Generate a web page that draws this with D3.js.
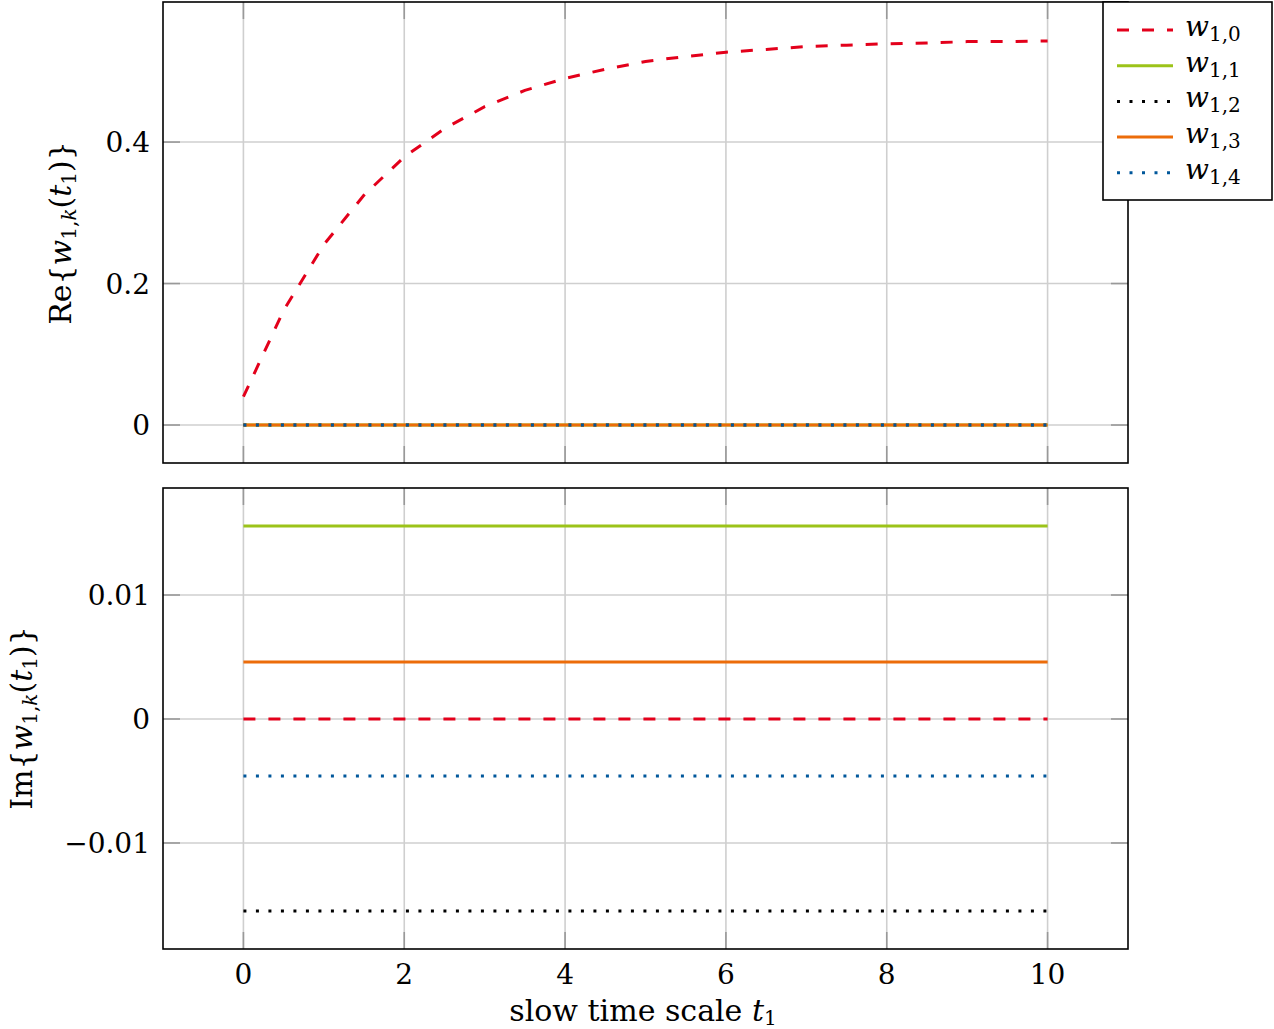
<!DOCTYPE html>
<html>
<head>
<meta charset="utf-8">
<script src="https://cdnjs.cloudflare.com/ajax/libs/d3/7.8.5/d3.min.js"></script>
<style>
    body { margin: 0; background: white; }
    text { font-family: "DejaVu Serif", "Liberation Serif", serif; fill: #000; }
</style>
</head>
<body>
<div id="chart"></div>
<script>
    // slow time samples and the Re part of w_{1,0}
    const t1 = [0, 0.5, 1, 1.5, 2, 2.5, 3, 3.5, 4, 4.5, 5, 5.5, 6, 6.5, 7, 7.5, 8, 8.5, 9, 9.5, 10];
    const reW10 = [0.040, 0.162, 0.255, 0.325, 0.379, 0.419, 0.450, 0.473, 0.490, 0.503, 0.514,
        0.521, 0.527, 0.531, 0.535, 0.537, 0.539, 0.540, 0.542, 0.542, 0.543];

    // the other series are constant over t1
    const seriesKeys = ["0", "1", "2", "3", "4"];
    const reConst = [null, 0, 0, 0, 0];
    const imConst = [0, 0.01556, -0.01548, 0.0046, -0.0046];

    const xTicks = [0, 2, 4, 6, 8, 10];
    const reTicks = [0, 0.2, 0.4];
    const imTicks = [-0.01, 0, 0.01];

    const colors = ["#e3001b", "#9cc31a", "#000000", "#ec6c0a", "#00579b"];
    const dashes = ["12,13", null, "3,9.5", null, "3,9.5"];

    const W = 1274, H = 1029;
    const left = 163, right = 1128;
    const fs = 28, fsSub = 20;

    const svg = d3.select("#chart").append("svg")
        .attr("width", W).attr("height", H);

    const x = d3.scaleLinear().domain([-1, 11]).range([left, right]);

    function panel(top, bottom, yDomain, yTicks, fmt) {
        const y = d3.scaleLinear().domain(yDomain).range([bottom, top]);
        const g = svg.append("g");

        // grid
        g.selectAll(".gx").data(xTicks).enter().append("line")
            .attr("x1", d => x(d)).attr("x2", d => x(d))
            .attr("y1", top).attr("y2", bottom)
            .attr("stroke", "#cfcfcf").attr("stroke-width", 1.6);
        g.selectAll(".gy").data(yTicks).enter().append("line")
            .attr("x1", left).attr("x2", right)
            .attr("y1", d => y(d)).attr("y2", d => y(d))
            .attr("stroke", "#cfcfcf").attr("stroke-width", 1.6);

        // inward ticks on all four sides
        const tl = 17, tc = "#999";
        xTicks.forEach(d => {
            g.append("line").attr("x1", x(d)).attr("x2", x(d)).attr("y1", bottom).attr("y2", bottom - tl)
                .attr("stroke", tc).attr("stroke-width", 1.6);
            g.append("line").attr("x1", x(d)).attr("x2", x(d)).attr("y1", top).attr("y2", top + tl)
                .attr("stroke", tc).attr("stroke-width", 1.6);
        });
        yTicks.forEach(d => {
            g.append("line").attr("x1", left).attr("x2", left + tl).attr("y1", y(d)).attr("y2", y(d))
                .attr("stroke", tc).attr("stroke-width", 1.6);
            g.append("line").attr("x1", right).attr("x2", right - tl).attr("y1", y(d)).attr("y2", y(d))
                .attr("stroke", tc).attr("stroke-width", 1.6);
        });

        // y tick labels
        g.selectAll(".yl").data(yTicks).enter().append("text")
            .attr("x", left - 13).attr("y", d => y(d) + 10)
            .attr("text-anchor", "end").attr("font-size", fs)
            .text(fmt);

        return {g: g, y: y, top: top, bottom: bottom};
    }

    const fmtRe = d => d === 0 ? "0" : d3.format(".1f")(d);
    const fmtIm = d => d === 0 ? "0" : (d < 0 ? "\u22120.01" : "0.01");

    const pTop = panel(2, 463, [-0.0537, 0.598], reTicks, fmtRe);
    const pBot = panel(488, 949, [-0.01855, 0.01863], imTicks, fmtIm);

    const line = (y) => d3.line().x(d => x(d[0])).y(d => y(d[1]));

    function drawSeries(p, data, i) {
        p.g.append("path")
            .datum(data)
            .attr("d", line(p.y))
            .attr("fill", "none")
            .attr("stroke", colors[i])
            .attr("stroke-width", 3)
            .attr("stroke-dasharray", dashes[i]);
    }

    // top: Re parts (drawn in order so blue dots sit over orange)
    seriesKeys.forEach((k, i) => {
        if (i === 0) {
            drawSeries(pTop, t1.map((t, j) => [t, reW10[j]]), 0);
        } else {
            drawSeries(pTop, [[t1[0], reConst[i]], [t1[t1.length - 1], reConst[i]]], i);
        }
    });

    // bottom: Im parts
    seriesKeys.forEach((k, i) => {
        drawSeries(pBot, [[t1[0], imConst[i]], [t1[t1.length - 1], imConst[i]]], i);
    });

    // frames
    [pTop, pBot].forEach(p => {
        svg.append("rect").attr("x", left).attr("y", p.top)
            .attr("width", right - left).attr("height", p.bottom - p.top)
            .attr("fill", "none").attr("stroke", "#000").attr("stroke-width", 1.6);
    });

    // x tick labels
    svg.selectAll(".xl").data(xTicks).enter().append("text")
        .attr("x", d => x(d)).attr("y", 984)
        .attr("text-anchor", "middle").attr("font-size", fs)
        .text(d => d);

    // x label
    const xl = svg.append("text").attr("x", 643).attr("y", 1021)
        .attr("text-anchor", "middle").attr("font-size", 30);
    xl.append("tspan").text("slow time scale ");
    xl.append("tspan").attr("font-style", "italic").text("t");
    xl.append("tspan").attr("font-size", fsSub).attr("dy", 4).text("1");

    // y labels
    function yLabel(cx, cy, prefix) {
        const t = svg.append("text")
            .attr("transform", `translate(${cx},${cy}) rotate(-90)`)
            .attr("text-anchor", "middle").attr("font-size", 30);
        t.append("tspan").text(prefix + "{");
        t.append("tspan").attr("font-style", "italic").text("w");
        t.append("tspan").attr("font-size", fsSub).attr("dy", 5).text("1,");
        t.append("tspan").attr("font-size", fsSub).attr("font-style", "italic").text("k");
        t.append("tspan").attr("dy", -5).text("(");
        t.append("tspan").attr("font-style", "italic").text("t");
        t.append("tspan").attr("font-size", fsSub).attr("dy", 5).text("1");
        t.append("tspan").attr("dy", -5).text(")}");
    }
    yLabel(71, 233, "Re");
    yLabel(32, 718, "Im");

    // legend
    const lg = svg.append("g");
    lg.append("rect").attr("x", 1103).attr("y", 2).attr("width", 169).attr("height", 198)
        .attr("fill", "white").attr("stroke", "#000").attr("stroke-width", 1.6);
    seriesKeys.forEach((k, i) => {
        const yy = 30 + i * 35.7;
        lg.append("line").attr("x1", 1117).attr("x2", 1173).attr("y1", yy).attr("y2", yy)
            .attr("stroke", colors[i]).attr("stroke-width", 3)
            .attr("stroke-dasharray", dashes[i]);
        const t = lg.append("text").attr("x", 1185).attr("y", yy + 6).attr("font-size", fs);
        t.append("tspan").attr("font-style", "italic").text("w");
        t.append("tspan").attr("font-size", fsSub).attr("dy", 5).text("1," + k);
    });
</script>
</body>
</html>
